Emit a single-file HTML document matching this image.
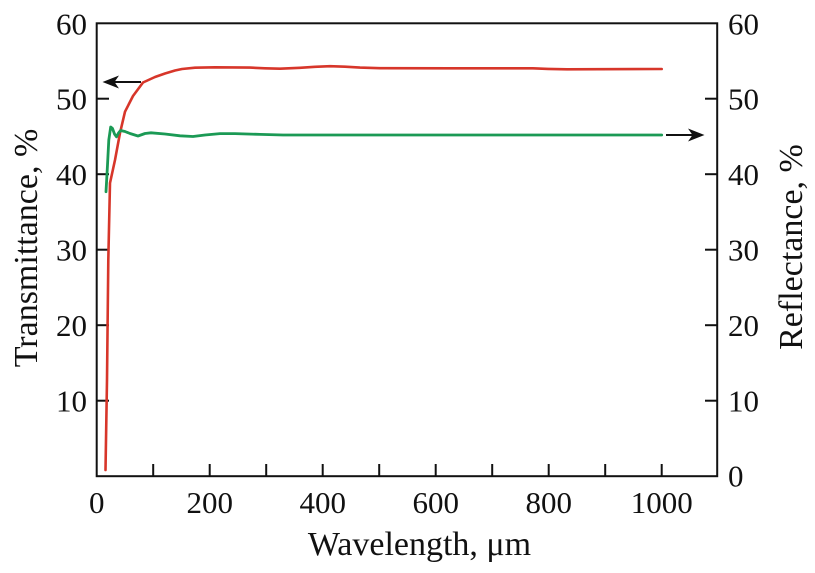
<!DOCTYPE html>
<html>
<head>
<meta charset="utf-8">
<style>
  html,body{margin:0;padding:0;background:#fff;}
  svg{display:block;}
  text{font-family:"Liberation Serif","DejaVu Serif",serif;fill:#111;}
</style>
</head>
<body>
<svg width="815" height="573" viewBox="0 0 815 573" xmlns="http://www.w3.org/2000/svg">
  <rect x="0" y="0" width="815" height="573" fill="#fff"/>

  <!-- Frame -->
  <rect x="96.7" y="23.3" width="620.5" height="452.9" fill="none" stroke="#111" stroke-width="2"/>

  <!-- Left ticks -->
  <g stroke="#111" stroke-width="2">
    <line x1="96.7" y1="98.7" x2="109" y2="98.7"/>
    <line x1="96.7" y1="174.2" x2="109" y2="174.2"/>
    <line x1="96.7" y1="249.7" x2="109" y2="249.7"/>
    <line x1="96.7" y1="325.2" x2="109" y2="325.2"/>
    <line x1="96.7" y1="400.7" x2="109" y2="400.7"/>
    <!-- Right ticks -->
    <line x1="717.2" y1="98.7" x2="705" y2="98.7"/>
    <line x1="717.2" y1="174.2" x2="705" y2="174.2"/>
    <line x1="717.2" y1="249.7" x2="705" y2="249.7"/>
    <line x1="717.2" y1="325.2" x2="705" y2="325.2"/>
    <line x1="717.2" y1="400.7" x2="705" y2="400.7"/>
    <!-- Bottom ticks -->
    <line x1="153.2" y1="476.2" x2="153.2" y2="464"/>
    <line x1="209.7" y1="476.2" x2="209.7" y2="464"/>
    <line x1="266.2" y1="476.2" x2="266.2" y2="464"/>
    <line x1="322.7" y1="476.2" x2="322.7" y2="464"/>
    <line x1="379.2" y1="476.2" x2="379.2" y2="464"/>
    <line x1="435.7" y1="476.2" x2="435.7" y2="464"/>
    <line x1="492.2" y1="476.2" x2="492.2" y2="464"/>
    <line x1="548.7" y1="476.2" x2="548.7" y2="464"/>
    <line x1="605.2" y1="476.2" x2="605.2" y2="464"/>
    <line x1="661.7" y1="476.2" x2="661.7" y2="464"/>
  </g>

  <!-- Left tick labels -->
  <g font-size="31" text-anchor="end">
    <text x="87" y="34.5">60</text>
    <text x="87" y="109.7">50</text>
    <text x="87" y="185.2">40</text>
    <text x="87" y="260.7">30</text>
    <text x="87" y="336.2">20</text>
    <text x="87" y="411.7">10</text>
  </g>
  <!-- Right tick labels -->
  <g font-size="31" text-anchor="start">
    <text x="728" y="34.5">60</text>
    <text x="728" y="109.7">50</text>
    <text x="728" y="185.2">40</text>
    <text x="728" y="260.7">30</text>
    <text x="728" y="336.2">20</text>
    <text x="728" y="411.7">10</text>
    <text x="728" y="486.5">0</text>
  </g>
  <!-- Bottom tick labels -->
  <g font-size="31" text-anchor="middle">
    <text x="96.7" y="513">0</text>
    <text x="209.7" y="513">200</text>
    <text x="322.7" y="513">400</text>
    <text x="435.7" y="513">600</text>
    <text x="548.7" y="513">800</text>
    <text x="661.7" y="513">1000</text>
  </g>

  <!-- Axis titles -->
  <text x="419.5" y="555" font-size="34" text-anchor="middle">Wavelength, μm</text>
  <text transform="translate(37,248) rotate(-90)" font-size="34" text-anchor="middle">Transmittance, %</text>
  <text transform="translate(802,247) rotate(-90)" font-size="34" text-anchor="middle">Reflectance, %</text>

  <!-- Red transmittance curve -->
  <polyline fill="none" stroke="#d7362a" stroke-width="2.6" stroke-linejoin="round" stroke-linecap="round"
    points="105.5,470 107,380 108.3,260 110,183 115,160 120,133 125,111.7 133,96 143,82.5 155,77 165,73.5 175,70.5 182,69 195,67.7 215,67.3 250,67.6 265,68.3 280,68.7 300,67.8 315,66.8 330,66.2 345,66.7 360,67.6 380,68.2 450,68.3 533,68.3 548,68.9 567,69.3 600,69.2 661.7,69"/>

  <!-- Green reflectance curve -->
  <polyline fill="none" stroke="#1b9a55" stroke-width="2.8" stroke-linejoin="round" stroke-linecap="round"
    points="106,191.7 107.5,165 108.8,140 110.7,127 112.5,128.5 114.5,134 116.5,136.8 118.5,133 120.5,130.5 125,131.5 130,133.5 138,136 145,133.5 151,132.8 165,134 180,135.8 193,136.5 205,135 220,133.6 235,133.6 260,134.4 283,135 661.7,135"/>

  <!-- Left arrow -->
  <line x1="141" y1="82" x2="113" y2="82" stroke="#111" stroke-width="2"/>
  <polygon points="102.5,82 119,75.5 114.5,82 119,88.5" fill="#111"/>

  <!-- Right arrow -->
  <line x1="666" y1="135" x2="693" y2="135" stroke="#111" stroke-width="2"/>
  <polygon points="704.5,135 688,128.5 692.5,135 688,141.5" fill="#111"/>
</svg>
</body>
</html>
